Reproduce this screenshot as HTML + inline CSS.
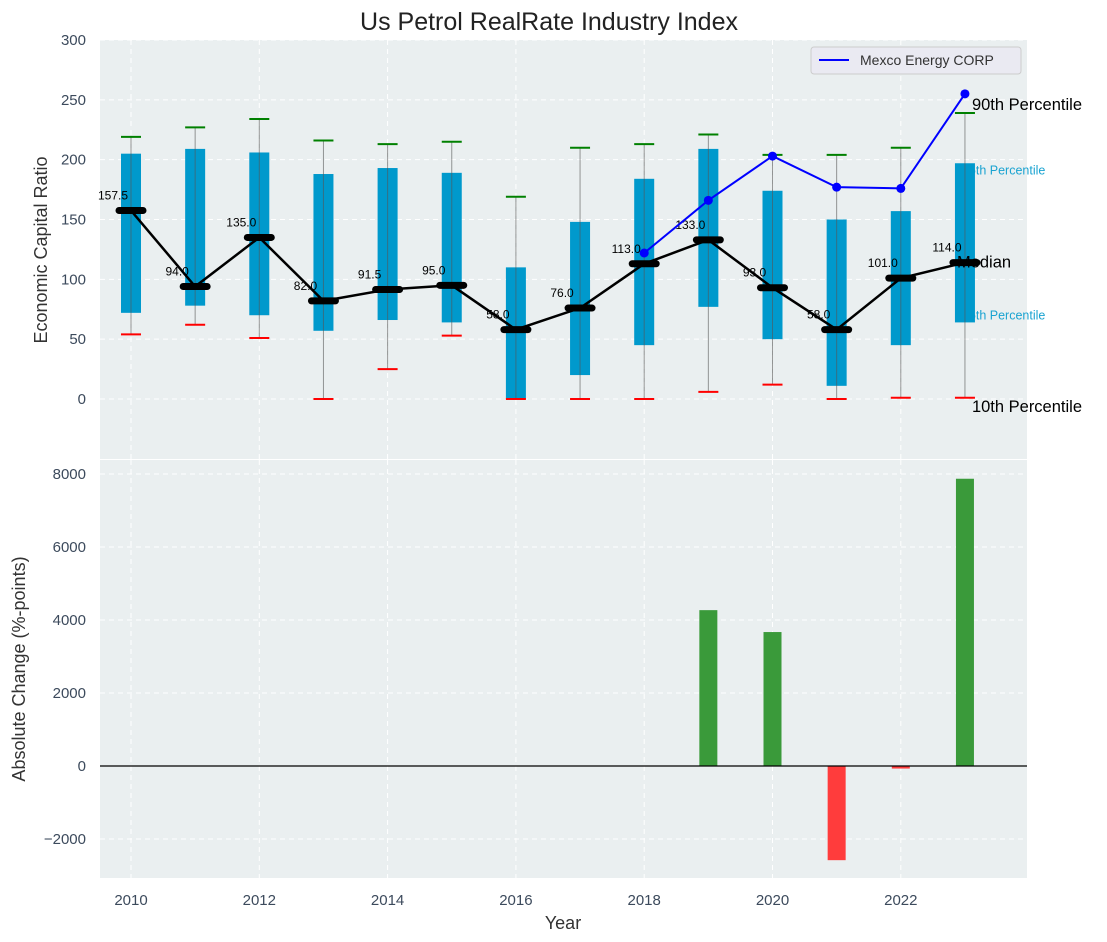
<!DOCTYPE html>
<html><head><meta charset="utf-8"><style>
body{margin:0;background:#fff;}
svg{display:block;font-family:"Liberation Sans","DejaVu Sans",sans-serif;}
</style></head><body>
<svg id="chart" width="1107" height="942">
<text x="549" y="30" text-anchor="middle" font-size="25" fill="#222">Us Petrol RealRate Industry Index</text>
<rect x="100" y="40" width="927" height="419" fill="#eaeff0"/>
<rect x="100" y="460" width="927" height="418" fill="#eaeff0"/>
<g id="topg"></g><g id="botg"></g>
<text transform="translate(47,250) rotate(-90)" text-anchor="middle" font-size="18" fill="#333">Economic Capital Ratio</text>
<text transform="translate(25,669) rotate(-90)" text-anchor="middle" font-size="18" fill="#333">Absolute Change (%-points)</text>
<text x="563" y="929" text-anchor="middle" font-size="18" fill="#333">Year</text>
<g>
<rect x="811" y="47" width="210" height="27" rx="3" fill="#eaeaf2" stroke="#ccc"/>
<line x1="819" y1="60" x2="849" y2="60" stroke="#0000ff" stroke-width="2"/>
<text x="860" y="65" font-size="14" fill="#333">Mexco Energy CORP</text>
</g>
</svg>
<script>
const years=[2010,2011,2012,2013,2014,2015,2016,2017,2018,2019,2020,2021,2022,2023];
const p10=[54,62,51,0,25,53,0,0,0,6,12,0,1,1];
const p25=[72,78,70,57,66,64,0,20,45,77,50,11,45,64];
const medians=[157.5,94,135,82,91.5,95,58,76,113,133,93,58,101,114];
const p75=[205,209,206,188,193,189,110,148,184,209,174,150,157,197];
const p90=[219,227,234,216,213,215,169,210,213,221,204,204,210,239];
const compYears=[2018,2019,2020,2021,2022,2023];
const compValues=[122,166,203,177,176,255];
const changeValues=[0,0,0,0,0,0,0,0,0,4270,3670,-2580,-70,7870];
const topTicks=[0,50,100,150,200,250,300];
const botTicks=[-2000,0,2000,4000,6000,8000];
const xTicks=[2010,2012,2014,2016,2018,2020,2022];

const NS="http://www.w3.org/2000/svg";
const X=y=>131+(y-2010)*64.15;
const YT=v=>399-v*1.1967;
const YB=v=>766-v*0.0365;
function mk(p,tag,a){const e=document.createElementNS(NS,tag);for(const k in a)e.setAttribute(k,a[k]);p.appendChild(e);return e;}
const gTop=document.getElementById('topg'),gBot=document.getElementById('botg');
topTicks.forEach(t=>{
 const l=mk(gTop,'line',{x1:100,x2:1027,y1:YT(t),y2:YT(t),stroke:'#fff','stroke-dasharray':'5,4'});
 
 
 const tx=mk(gTop,'text',{x:86,y:YT(t)+5,'text-anchor':'end','font-size':15,fill:'#3c4a5c'});tx.textContent=t;
 
 
});
botTicks.forEach(t=>{
 const l=mk(gBot,'line',{x1:100,x2:1027,y1:YB(t),y2:YB(t),stroke:'#fff','stroke-dasharray':'5,4'});
 
 
 const tx=mk(gBot,'text',{x:86,y:YB(t)+5,'text-anchor':'end','font-size':15,fill:'#3c4a5c'});tx.textContent=(t<0?'\u2212'+(-t):t);
 
 
});
xTicks.forEach(t=>{
 mk(gTop,'line',{x1:X(t),x2:X(t),y1:40,y2:459,stroke:'#fff','stroke-dasharray':'5,4'});
 mk(gBot,'line',{x1:X(t),x2:X(t),y1:460,y2:878,stroke:'#fff','stroke-dasharray':'5,4'});
 const tx=mk(gBot,'text',{x:X(t),y:905,'text-anchor':'middle','font-size':15,fill:'#3c4a5c'});tx.textContent=t;
 
 
});
const li=years.length-1,lx=X(years[li]);
const t75=mk(gTop,'text',{x:lx-3,y:YT(p75[li])+11,'font-size':12.5,fill:'#1aa3d1'});t75.textContent='75th Percentile';


const t25=mk(gTop,'text',{x:lx-3,y:YT(p25[li])-3,'font-size':12.5,fill:'#1aa3d1'});t25.textContent='25th Percentile';


years.forEach((y,i)=>{
 const x=X(y);
 const b=mk(gTop,'rect',{x:x-10,y:YT(p75[i]),width:20,height:YT(p25[i])-YT(p75[i]),fill:'#0099cc'});
 
 
 mk(gTop,'line',{x1:x,x2:x,y1:YT(p90[i]),y2:YT(p10[i]),stroke:'#555','stroke-opacity':0.6,'stroke-width':1});
 const g=mk(gTop,'line',{x1:x-10,x2:x+10,y1:YT(p90[i]),y2:YT(p90[i]),stroke:'#008000','stroke-width':2});
 
 
 const r=mk(gTop,'line',{x1:x-10,x2:x+10,y1:YT(p10[i]),y2:YT(p10[i]),stroke:'#ff0000','stroke-width':2});
 
 
});
const mp=years.map((y,i)=>X(y)+','+YT(medians[i])).join(' ');
const ml=mk(gTop,'polyline',{points:mp,fill:'none',stroke:'#000','stroke-width':2.5});


years.forEach((y,i)=>{
 const m=mk(gTop,'line',{x1:X(y)-12,x2:X(y)+12,y1:YT(medians[i]),y2:YT(medians[i]),stroke:'#000','stroke-width':7,'stroke-linecap':'round'});
 
 
 const t=mk(gTop,'text',{x:X(y)-18,y:YT(medians[i])-11,'text-anchor':'middle','font-size':12,fill:'#000'});t.textContent=medians[i].toFixed(1);
 
 
});
const cp=compYears.map((y,i)=>X(y)+','+YT(compValues[i])).join(' ');
const cl=mk(gTop,'polyline',{points:cp,fill:'none',stroke:'#0000ff','stroke-width':2});


compYears.forEach((y,i)=>{
 const c=mk(gTop,'circle',{cx:X(y),cy:YT(compValues[i]),r:4.5,fill:'#0000ff'});
 
 
});
[[p90[li],'90th Percentile',7,-3],[medians[li],'Median',-8,5],[p10[li],'10th Percentile',7,14]].forEach(a=>{
 const t=mk(gTop,'text',{x:lx+a[2],y:YT(a[0])+a[3],'font-size':16.5,fill:'#000'});t.textContent=a[1];
 
 
});
years.forEach((y,i)=>{
 const v=changeValues[i]; if(v===0) return;
 const b=mk(gBot,'rect',{x:X(y)-9,y:Math.min(YB(v),YB(0)),width:18,height:Math.abs(YB(v)-YB(0)),fill:v>0?'#3a9a3a':'#ff3c3c'});
 
 
});
const z=mk(gBot,'line',{x1:100,x2:1027,y1:YB(0),y2:YB(0),stroke:'#000','stroke-width':1.2});


</script>
</body></html>
